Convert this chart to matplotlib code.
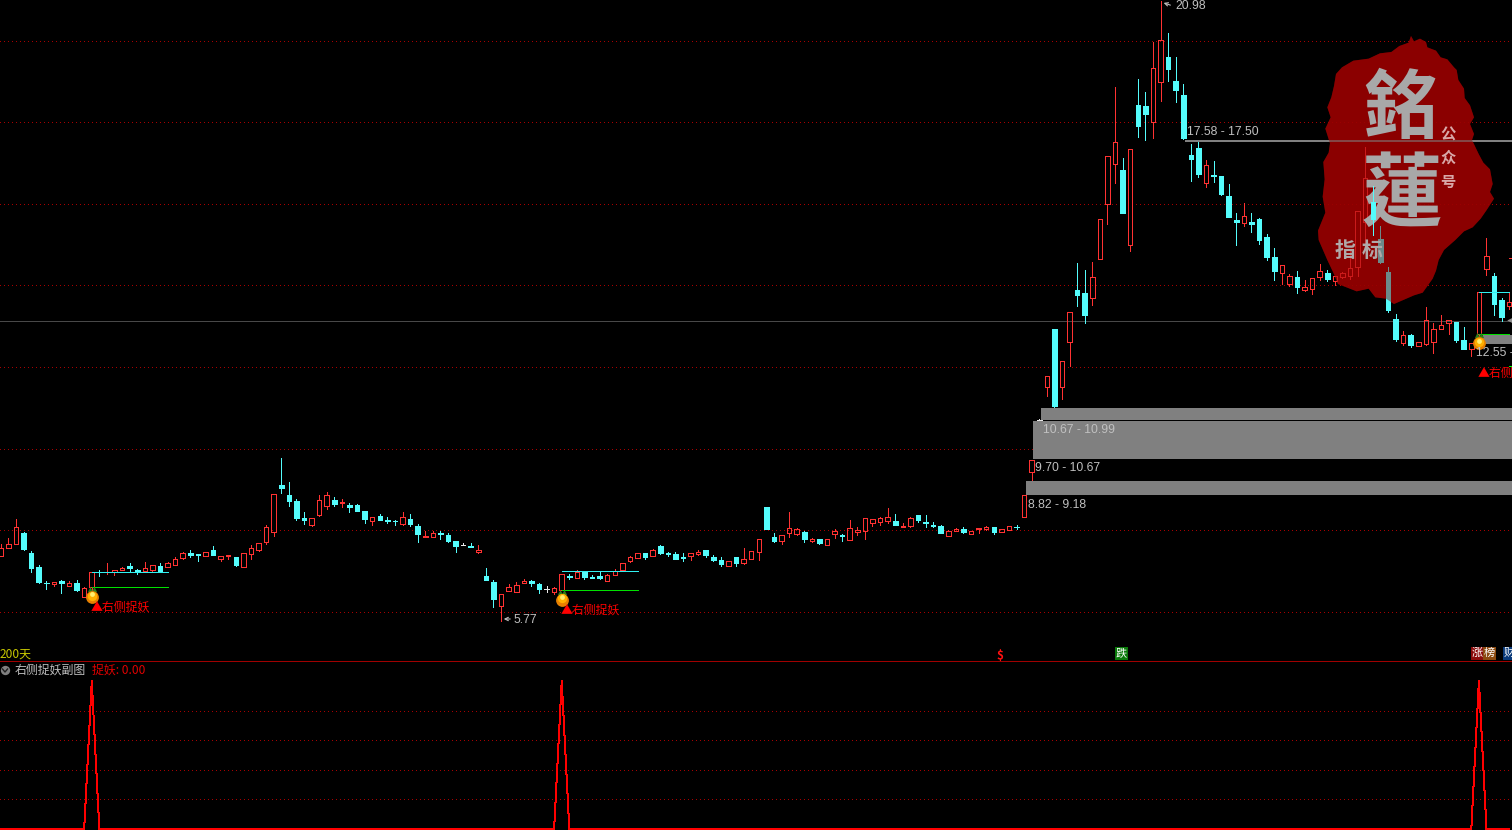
import numpy as np
import matplotlib
matplotlib.use('Agg')
import matplotlib.pyplot as plt
from matplotlib.patches import Polygon, Rectangle

plt.rcParams['font.family'] = ['Noto Sans CJK SC', 'DejaVu Sans']

# Daily prices
opens = [7.37,7.57,7.66,7.93,7.44,7.09,6.71,6.68,6.75,6.63,6.69,6.36,6.59,6.98,6.96,6.96,7.03,7.11,7.01,7.00,
         7.02,7.12,7.08,7.14,7.32,7.44,7.41,7.35,7.51,7.30,7.35,7.33,7.10,7.42,7.52,7.71,7.96,9.10,8.86,8.71,
         8.29,8.12,8.38,8.59,8.73,8.66,8.61,8.61,8.47,8.22,8.34,8.25,8.23,8.15,8.27,8.10,7.84,7.84,7.93,7.88,
         7.73,7.62,7.61,7.47,6.87,6.72,6.13,6.51,6.49,6.71,6.75,6.67,6.54,6.48,6.53,6.87,6.83,6.97,6.85,6.87,
         6.76,6.89,7.03,7.25,7.32,7.43,7.37,7.61,7.44,7.41,7.33,7.35,7.42,7.51,7.34,7.26,7.12,7.33,7.19,7.29,
         7.45,8.56,7.83,7.73,7.93,7.91,7.95,7.74,7.78,7.64,7.91,7.88,7.75,7.96,7.98,8.17,8.20,8.22,8.22,8.08,
         8.10,8.37,8.20,8.12,8.10,7.86,7.97,8.02,7.89,8.02,8.02,8.07,7.96,7.99,8.08,8.33,9.43,10.70,11.52,12.93,
         11.52,12.62,13.89,13.82,13.70,14.66,16.01,16.99,16.83,15.00,18.42,18.40,18.02,19.00,19.61,19.02,18.67,17.20,17.37,16.52,
         16.71,16.69,16.20,15.61,15.54,15.56,15.63,15.19,14.70,14.31,14.04,14.21,13.89,13.92,14.20,14.31,14.11,14.20,14.24,14.46,
         15.57,16.05,15.14,14.33,13.17,12.59,12.79,12.52,12.57,12.62,12.93,13.09,13.10,12.66,12.45,12.81,14.40,14.23,13.64,13.49]
closes = [7.57,7.65,8.07,7.53,7.07,6.72,6.69,6.73,6.71,6.71,6.53,6.58,6.96,6.96,6.98,7.01,7.07,7.07,6.97,7.06,
          7.13,7.00,7.19,7.30,7.44,7.39,7.39,7.45,7.39,7.35,7.38,7.14,7.43,7.55,7.67,8.07,8.88,9.03,8.72,8.29,
          8.25,8.29,8.73,8.85,8.65,8.68,8.56,8.47,8.27,8.31,8.25,8.23,8.21,8.31,8.15,7.90,7.85,7.93,7.89,7.73,
          7.61,7.62,7.59,7.51,6.77,6.31,6.43,6.59,6.64,6.75,6.70,6.55,6.54,6.57,6.92,6.85,6.97,6.85,6.81,6.82,
          6.90,7.00,7.18,7.33,7.43,7.34,7.50,7.44,7.41,7.30,7.31,7.43,7.46,7.39,7.26,7.17,7.23,7.19,7.30,7.48,
          7.77,8.02,7.73,7.87,8.04,8.02,7.78,7.78,7.68,7.79,7.97,7.85,8.04,7.99,8.29,8.26,8.29,8.31,8.12,8.11,
          8.29,8.25,8.18,8.10,7.93,7.97,8.02,7.95,7.97,8.04,8.07,7.95,8.02,8.11,8.07,8.85,9.73,10.70,11.77,11.04,
          12.14,13.34,13.77,13.28,14.20,15.62,17.17,17.51,15.78,17.34,17.92,18.22,19.33,20.02,19.31,18.80,17.62,17.10,16.73,16.95,
          16.69,16.25,15.68,15.56,15.70,15.51,15.12,14.70,14.36,14.50,14.23,13.96,13.96,14.18,14.36,14.16,14.23,14.30,14.42,15.84,
          16.65,15.62,14.58,13.40,12.69,12.78,12.54,12.61,13.15,12.93,13.02,13.15,12.66,12.44,12.58,13.83,14.72,13.55,13.23,13.60]
highs = [7.65,7.80,8.26,7.95,7.48,7.14,6.75,6.73,6.77,6.74,6.77,6.59,6.96,7.02,7.19,7.01,7.09,7.19,7.04,7.21,
         7.13,7.19,7.21,7.33,7.46,7.51,7.41,7.45,7.61,7.35,7.38,7.34,7.43,7.63,7.67,8.12,8.88,9.76,9.18,8.76,
         8.44,8.29,8.86,8.93,8.81,8.76,8.66,8.64,8.47,8.31,8.39,8.32,8.25,8.44,8.39,8.15,7.98,7.98,7.98,7.93,
         7.73,7.68,7.68,7.63,7.07,6.77,6.43,6.67,6.72,6.79,6.77,6.70,6.63,6.59,6.92,6.92,7.02,6.97,6.90,6.97,
         6.92,7.04,7.18,7.36,7.43,7.43,7.53,7.63,7.46,7.46,7.44,7.43,7.51,7.51,7.39,7.34,7.23,7.33,7.56,7.48,
         7.77,8.56,7.93,7.87,8.44,8.05,7.98,7.80,7.78,7.79,8.02,7.90,8.25,8.07,8.29,8.26,8.32,8.54,8.39,8.17,
         8.31,8.37,8.37,8.20,8.12,7.99,8.04,8.07,7.97,8.04,8.09,8.07,8.02,8.11,8.12,8.85,9.73,10.72,11.77,12.93,
         12.14,13.34,14.55,14.38,14.58,15.62,17.17,18.87,17.14,17.34,19.07,18.75,19.98,20.98,20.20,19.61,18.95,17.47,17.52,17.08,
         17.06,16.69,16.49,15.78,16.02,15.78,15.66,15.26,14.92,14.50,14.28,14.36,14.13,14.18,14.53,14.38,14.23,14.32,14.87,15.84,
         17.39,16.43,15.46,14.45,13.30,12.88,12.81,12.61,13.47,13.08,13.28,13.15,13.10,12.98,12.58,13.83,15.17,14.31,13.69,13.85]
lows = [7.37,7.57,7.66,7.51,6.98,6.70,6.55,6.63,6.45,6.63,6.50,6.36,6.49,6.87,6.92,6.90,7.03,6.96,6.92,7.00,
        6.97,7.00,7.08,7.14,7.29,7.34,7.24,7.35,7.39,7.24,7.29,7.12,7.10,7.29,7.49,7.66,7.85,8.91,8.59,8.25,
        8.15,8.10,8.35,8.51,8.59,8.56,8.44,8.47,8.17,8.12,8.25,8.18,8.12,8.12,8.10,7.70,7.84,7.84,7.78,7.70,
        7.46,7.62,7.59,7.44,6.77,6.11,5.77,6.51,6.49,6.71,6.63,6.45,6.48,6.43,6.53,6.79,6.83,6.80,6.81,6.80,
        6.76,6.89,7.03,7.21,7.32,7.29,7.37,7.41,7.36,7.29,7.24,7.26,7.39,7.34,7.24,7.12,7.12,7.12,7.17,7.29,
        7.26,8.02,7.70,7.66,7.83,7.88,7.70,7.70,7.66,7.64,7.80,7.73,7.75,7.88,7.78,8.10,8.12,8.17,8.12,8.08,
        8.07,8.20,8.07,8.07,7.93,7.86,7.97,7.93,7.89,7.93,8.00,7.90,7.96,7.99,8.02,8.33,9.23,10.70,11.29,11.02,
        11.21,12.02,13.50,13.08,13.52,14.66,15.52,16.52,15.78,14.85,17.64,17.57,17.62,18.53,19.02,18.50,17.60,16.56,16.66,16.42,
        16.54,16.22,15.68,14.99,15.46,15.31,15.02,14.63,14.13,14.04,13.99,13.82,13.87,13.79,14.13,14.11,14.01,14.18,14.16,14.23,
        15.03,15.24,14.55,13.35,12.64,12.54,12.49,12.52,12.54,12.34,12.93,12.81,12.61,12.44,12.27,12.60,14.26,13.28,13.13,13.43]

# Indicator spikes and the levels drawn from each signal day
signal_days = [12, 74, 195]
line_high = [6.96, 6.99, 13.83]
line_low = [6.59, 6.52, 12.80]
ball_price = [6.36, 6.29, 12.58]
signal_value = np.zeros(len(opens))
signal_value[signal_days] = 100

# Gaps: first day, top, bottom
gap_start = [135, 136, 137, 156, 195.3]
gap_top = [9.20, 10.67, 10.99, 17.57, 12.79]
gap_bottom = [8.86, 9.74, 10.70, 17.52, 12.56]

price_grid = [20, 18, 16, 14, 12, 10, 8, 6]
sub_grid = [20, 40, 60, 80]
last_price = 13.14

RED = '#ff3232'
CYAN = '#54fcfc'
GRID = '#a80000'
LABEL = '#c0c0c0'
LW = 0.72  # one pixel

W, H = 1512, 830
DX = 7.58
MAIN_H = 661
fig = plt.figure(figsize=(W / 100, H / 100), dpi=100, facecolor='black')

def pixel_axes(z):
    a = fig.add_axes([0, 0, 1, 1], zorder=z)
    a.set_xlim(0, W)
    a.set_ylim(H, 0)
    a.axis('off')
    return a

# Ink blot behind the candles, outline in picture pixels
blot = np.array([(296,38),(303,18),(312,34),(330,26),(348,36),(352,52),(378,62),(392,82),(412,88),(432,112),
                 (440,120),(445,150),(462,176),(464,204),(480,226),(492,262),(480,282),(492,312),(486,330),(506,372),
                 (520,398),(540,418),(548,462),(540,486),(552,506),(530,540),(512,566),(488,592),(462,604),(436,630),
                 (402,660),(386,690),(378,722),(368,746),(338,788),(312,796),(252,822),(228,806),(196,802),(176,776),
                 (140,784),(84,762),(70,728),(52,690),(26,630),(24,602),(46,548),(38,500),(44,448),(40,396),
                 (56,368),(60,340),(46,296),(62,262),(52,232),(64,202),(72,168),(78,132),(96,112),(130,92),
                 (176,86),(210,70),(244,66),(268,48)], dtype=float)
blot = blot / 3 + [1310, 30]

bg = pixel_axes(0)
bg.set_facecolor('black')
bg.add_patch(Polygon(blot, closed=True, fc='#8b0000', ec='none'))

ax = fig.add_axes([0, (H - MAIN_H) / H, 1, MAIN_H / H], zorder=1)
ax.patch.set_alpha(0)
ax.set_xlim(-0.8 / DX, (W - 0.8) / DX)
ax.set_ylim(20 - 620 / 40.75, 20 + 41 / 40.75)
ax.axis('off')

for p in price_grid:
    ax.axhline(p, color=GRID, lw=LW, ls=(0, (1, 3)), antialiased=False, zorder=1)
ax.axhline(last_price, color='#484848', lw=LW, antialiased=False, zorder=1)

for s, t, b in zip(gap_start, gap_top, gap_bottom):
    ax.add_patch(Rectangle((s + 0.2, b), 300, t - b, fc='#808080', ec='none', zorder=4))

def draw_candle(a, i):
    o, c, h, l = opens[i], closes[i], highs[i], lows[i]
    col = RED if c > o else (CYAN if c < o else '#e8e8e8')
    top, bottom = max(o, c), min(o, c)
    if h > top:
        a.vlines(i, top, h, color=col, lw=LW, antialiased=False, zorder=3)
    if l < bottom:
        a.vlines(i, l, bottom, color=col, lw=LW, antialiased=False, zorder=3)
    if c > o:
        a.add_patch(Rectangle((i - 0.3, bottom), 0.6, top - bottom, fc='none', ec=col, lw=LW,
                              antialiased=False, zorder=3))
    elif c < o:
        a.add_patch(Rectangle((i - 0.3, bottom), 0.6, top - bottom, fc=col, ec=col, lw=LW,
                              antialiased=False, zorder=3))
    else:
        a.hlines(c, i - 0.3, i + 0.3, color=col, lw=LW, antialiased=False, zorder=3)

for i in range(len(opens)):
    draw_candle(ax, i)
ax.hlines(14.67, 199, 199.4, color=RED, lw=LW, antialiased=False, zorder=3)
ax.hlines(12.03, 199, 199.4, color='#00ff00', lw=LW, antialiased=False, zorder=3)

# Levels and fruit on signal days
for d, hi, lo, b in zip(signal_days, line_high, line_low, ball_price):
    end = min(d + 10, 199)
    ax.hlines(hi, d, end, color='#30f0f0', lw=LW, antialiased=False, zorder=5)
    ax.hlines(lo, d, end, color='#00e000', lw=LW, antialiased=False, zorder=5)
    ax.scatter([d - 0.25, d + 0.25], [b + 0.2, b + 0.2], s=14, color='#2f7a1a', marker='^', zorder=6, linewidths=0)
    ax.scatter(d, b, s=85, color='#e88000', zorder=6, linewidths=0)
    ax.scatter(d, b + 0.03, s=45, color='#ffb000', zorder=6, linewidths=0)
    ax.scatter(d, b + 0.07, s=12, color='#ffee70', zorder=6, linewidths=0)

# Indicator panel
sub = fig.add_axes([0, 0, 1, (H - MAIN_H) / H], zorder=1)
sub.patch.set_alpha(0)
sub.set_xlim(ax.get_xlim())
sub.set_ylim(-1 / 1.48, 148 / 1.48 + 20 / 1.48)
sub.axis('off')
for v in sub_grid:
    sub.axhline(v, color=GRID, lw=LW, ls=(0, (1, 3)), antialiased=False)
sub.plot(np.arange(len(signal_value)), signal_value, color='#ff0000', lw=LW, antialiased=False)

# Veil dims the candles under the blot, glyphs and labels go on top
top = pixel_axes(2)
top.add_patch(Polygon(blot, closed=True, fc='#8b0000', ec='none', alpha=0.45))

bright = fig.add_axes(ax.get_position().bounds, zorder=5)
bright.patch.set_alpha(0)
bright.set_xlim(ax.get_xlim())
bright.set_ylim(ax.get_ylim())
bright.axis('off')

over = pixel_axes(4)
tc = ['Noto Sans CJK TC', 'DejaVu Sans']
over.text(1401, 110, '銘', color='#a8a8a8', fontsize=54, family=tc, weight='bold', ha='center', va='center')
over.text(1402, 196, '蓮', color='#a8a8a8', fontsize=58, family=tc, weight='bold', ha='center', va='center')
for y, ch in zip([135, 158, 182], '公众号'):
    over.text(1448, y, ch, color='#d8a8a8', fontsize=11, weight='bold', ha='center', va='center')
over.text(1345, 250, '指', color='#b0a8a8', fontsize=15, weight='bold', ha='center', va='center')
over.text(1372, 250, '标', color='#b0a8a8', fontsize=15, weight='bold', ha='center', va='center')

num = ['Liberation Sans', 'DejaVu Sans']
for x, y, s in [(1187, 132, '17.58 - 17.50'), (1043, 430, '10.67 - 10.99'), (1035, 468, '9.70 - 10.67'),
                (1028, 505, '8.82 - 9.18'), (1476, 353, '12.55 -'), (1175, 6, '20.98'), (514, 620, '5.77')]:
    over.text(x, y, s, color=LABEL, fontsize=8.8, family=num, ha='left', va='center')
over.annotate('', xy=(1161, 2), xytext=(1173, 6), arrowprops=dict(arrowstyle='->', color=LABEL, lw=0.8, mutation_scale=6))
over.annotate('', xy=(501, 619), xytext=(513, 619), arrowprops=dict(arrowstyle='->', color=LABEL, lw=0.8, mutation_scale=6))
over.scatter(1510, 320, s=22, marker='<', color='#909090', linewidths=0)

for x, y in [(91, 607), (561, 610), (1478, 373)]:
    over.text(x, y, '▲右侧捉妖', color='#ff0000', fontsize=8.6, ha='left', va='center')

over.hlines(MAIN_H, 0, W, color='#a00000', lw=LW, antialiased=False)
over.text(0, 654, '200天', color='#c8c800', fontsize=8.6, ha='left', va='center')
over.scatter(5, 670, s=45, color='#808080', linewidths=0)
over.plot([2.5, 5, 7.5], [669, 672, 669], color='#202020', lw=1)
over.text(15, 670, '右侧捉妖副图', color=LABEL, fontsize=8.6, ha='left', va='center')
over.text(92, 670, '捉妖: 0.00', color='#e00000', fontsize=8.6, ha='left', va='center')

# Event flags above the separator
over.text(1000, 655, '$', color='#ff1010', fontsize=8.5, weight='bold', ha='center', va='center')
for x, w, col, ch in [(1115, 13, '#0a7a0a', '跌'), (1471, 12, '#8b0a0a', '涨'), (1483, 13, '#8b4a10', '榜'),
                      (1502.5, 13, '#0a3a7a', '财')]:
    over.add_patch(Rectangle((x, 647), w, 13, fc=col, ec='none'))
    over.text(x + w / 2, 653, ch, color='white', fontsize=8, ha='center', va='center')

draw_candle(bright, 181)

plt.savefig('out.png', dpi=100, facecolor='black')
